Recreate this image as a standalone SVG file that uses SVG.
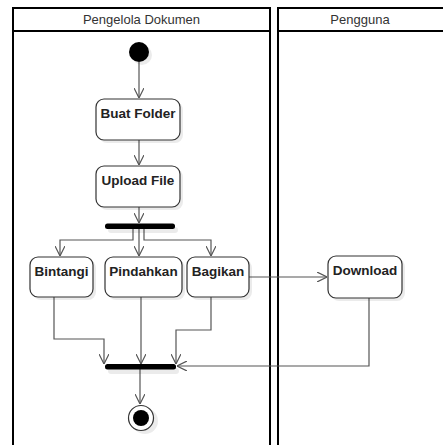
<svg xmlns="http://www.w3.org/2000/svg" width="443" height="445" viewBox="0 0 443 445">
<defs>
<style>
.lane{fill:none;stroke:#000;stroke-width:2}
.node{fill:#fff;stroke:#333;stroke-width:1.2}
.shadow{fill:#000;opacity:0.08}
.lbl{font-family:"Liberation Sans",Arial,sans-serif;font-size:13.5px;font-weight:bold;fill:#222;text-anchor:middle}
.hdr{font-family:"Liberation Sans",Arial,sans-serif;font-size:13px;fill:#333;text-anchor:middle}
.edge{fill:none;stroke:#555;stroke-width:1.2}
</style>
<marker id="arr" viewBox="0 0 10 10" refX="10" refY="5" markerWidth="10" markerHeight="10" markerUnits="userSpaceOnUse" orient="auto">
<path d="M0,0 L10,5 L0,10" fill="none" stroke="#555" stroke-width="1.2"/>
</marker>
</defs>
<rect width="443" height="445" fill="#fff"/>
<g id="lane-pengelola">
<rect class="lane" x="13" y="8" width="257" height="445"/>
<line class="lane" x1="13" y1="31" x2="270" y2="31"/>
<text class="hdr" x="141.5" y="24">Pengelola Dokumen</text>
</g>
<g id="lane-pengguna">
<rect class="lane" x="278" y="8" width="180" height="445"/>
<line class="lane" x1="278" y1="31" x2="458" y2="31"/>
<text class="hdr" x="360" y="24">Pengguna</text>
</g>
<g id="connectors">
<path class="edge" d="M139,62 V98" marker-end="url(#arr)"/>
<path class="edge" d="M139,140 V165" marker-end="url(#arr)"/>
<path class="edge" d="M139,207 V223" marker-end="url(#arr)"/>
<path class="edge" d="M133,229 V240 H60 V256" marker-end="url(#arr)"/>
<path class="edge" d="M139,229 V256" marker-end="url(#arr)"/>
<path class="edge" d="M144,229 V240 H211 V256" marker-end="url(#arr)"/>
<path class="edge" d="M249,277 H327" marker-end="url(#arr)"/>
<path class="edge" d="M54,297 V339 H104 V364" marker-end="url(#arr)"/>
<path class="edge" d="M141,297 V364" marker-end="url(#arr)"/>
<path class="edge" d="M211,297 V330 H176 V364" marker-end="url(#arr)"/>
<path class="edge" d="M369,298 V366 H177" marker-end="url(#arr)"/>
<path class="edge" d="M140,369 V404" marker-end="url(#arr)"/>
</g>
<g id="start">
<circle class="shadow" cx="142" cy="55" r="10"/>
<circle cx="139" cy="52" r="10" fill="#000"/>
</g>
<g id="buat-folder">
<rect class="shadow" x="99" y="102" width="84" height="41" rx="8"/>
<rect class="node" x="96" y="99" width="84" height="41" rx="8"/>
<text class="lbl" x="138" y="118">Buat Folder</text>
</g>
<g id="upload-file">
<rect class="shadow" x="99" y="169" width="84" height="41" rx="8"/>
<rect class="node" x="96" y="166" width="84" height="41" rx="8"/>
<text class="lbl" x="138" y="185">Upload File</text>
</g>
<g id="fork">
<rect class="shadow" x="108" y="227" width="70" height="6" rx="3"/>
<rect x="105" y="223.5" width="70" height="5.5" rx="2.5" fill="#000"/>
</g>
<g id="bintangi">
<rect class="shadow" x="33" y="260" width="63" height="40" rx="8"/>
<rect class="node" x="30" y="257" width="63" height="40" rx="8"/>
<text class="lbl" x="61.5" y="276">Bintangi</text>
</g>
<g id="pindahkan">
<rect class="shadow" x="108" y="260" width="77" height="40" rx="8"/>
<rect class="node" x="105" y="257" width="77" height="40" rx="8"/>
<text class="lbl" x="143.5" y="276">Pindahkan</text>
</g>
<g id="bagikan">
<rect class="shadow" x="190" y="260" width="62" height="40" rx="8"/>
<rect class="node" x="187" y="257" width="62" height="40" rx="8"/>
<text class="lbl" x="218" y="276">Bagikan</text>
</g>
<g id="download">
<rect class="shadow" x="331" y="259" width="74" height="42" rx="8"/>
<rect class="node" x="328" y="256" width="74" height="42" rx="8"/>
<text class="lbl" x="365" y="275">Download</text>
</g>
<g id="join">
<rect class="shadow" x="108" y="368" width="71" height="6" rx="3"/>
<rect x="105" y="364" width="71" height="5.5" rx="2.5" fill="#000"/>
</g>
<g id="end">
<circle class="shadow" cx="145" cy="421" r="13"/>
<circle cx="141" cy="418" r="12.5" fill="#fff" stroke="#333" stroke-width="1.2"/>
<circle cx="141" cy="418" r="8" fill="#000"/>
</g>
</svg>
